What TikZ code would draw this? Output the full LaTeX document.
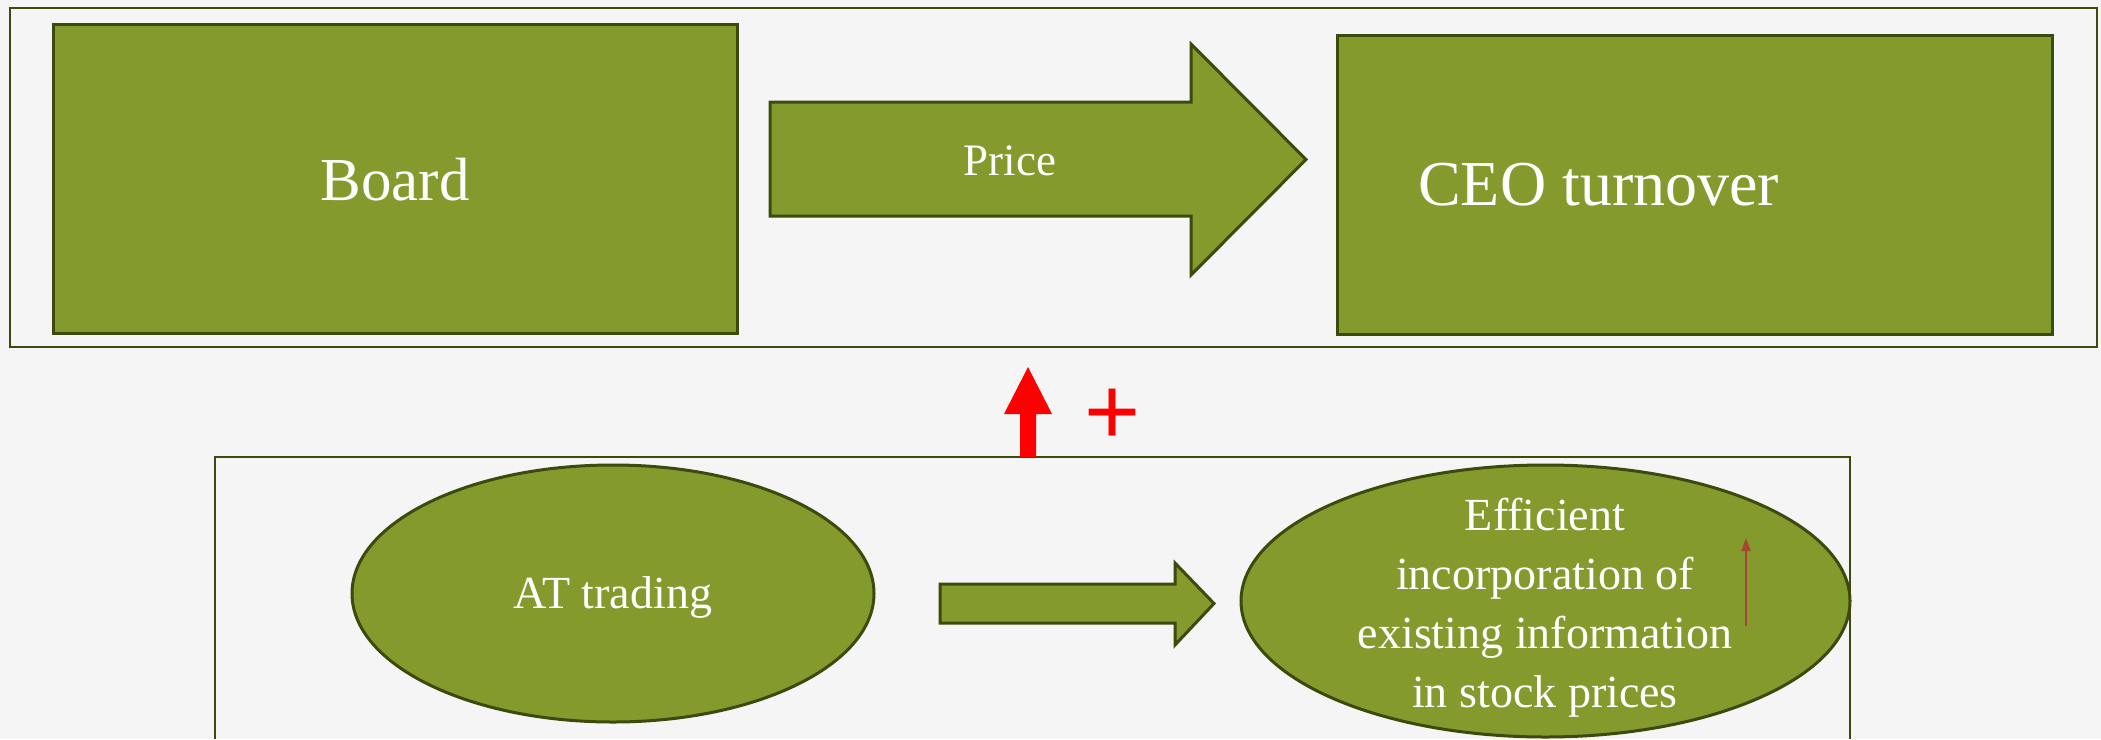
\documentclass[tikz,border=0pt]{standalone}
\usepackage{fontspec}
\setmainfont{Liberation Serif}
\newfontfamily\plusfont{Liberation Sans}
\usetikzlibrary{shapes.geometric,arrows.meta}
\definecolor{gfill}{HTML}{849A2D}
\definecolor{gline}{HTML}{3D4A0E}
\definecolor{bgcol}{HTML}{F5F5F5}
\definecolor{brred}{HTML}{A6443A}
\begin{document}
\begin{tikzpicture}[x=1pt,y=-1pt,
  frame/.style={draw=gline,line width=2.6pt},
  gbox/.style={draw=gline,fill=gfill,line width=3pt,rectangle,inner sep=0pt},
  gell/.style={draw=gline,fill=gfill,line width=3pt,ellipse,inner sep=0pt},
  gshape/.style={draw=gline,fill=gfill,line width=3pt,line join=miter},
  wtxt/.style={text=white,inner sep=0pt}]
\fill[bgcol] (0,0) rectangle (2101,739);
\useasboundingbox (0,0) rectangle (2101,739);
% top frame
\draw[frame] (10,8) rectangle (2097,347);
% Board
\node[gbox,minimum width=684pt,minimum height=309pt] (board) at (395,178.5) {};
\node[wtxt,anchor=base,font=\fontsize{61}{61}\selectfont] (boardtxt) at (395,200) {Board};
% Price arrow
\draw[gshape] (770,102) -- (1191,102) -- (1191,44) -- (1306,159.5) -- (1191,275) -- (1191,216) -- (770,216) -- cycle;
\node[wtxt,anchor=base,font=\fontsize{45}{45}\selectfont] (price) at (1010,175) {Price};
% CEO
\node[gbox,minimum width=715pt,minimum height=299pt] (ceo) at (1694.5,184.5) {};
\node[wtxt,anchor=base west,font=\fontsize{64}{64}\selectfont] (ceotxt) at (1418,205) {CEO turnover};
% bottom frame
\draw[frame] (215,739) -- (215,457) -- (1850,457) -- (1850,739);
% AT trading
\node[gell,minimum width=522pt,minimum height=257pt] (at) at (613,593.5) {};
\node[wtxt,anchor=base,font=\fontsize{46}{46}\selectfont] (attxt) at (613,608) {AT trading};
% small arrow
\draw[gshape] (940,584) -- (1175,584) -- (1175,563) -- (1214,603.5) -- (1175,645) -- (1175,623) -- (940,623) -- cycle;
% Efficient
\node[gell,minimum width=609pt,minimum height=272pt] (eff) at (1545.5,601) {};
\node[wtxt,align=center,font=\fontsize{46}{59}\selectfont] (efftxt) at (1545,608) {Efficient\\incorporation of\\existing information\\in stock prices};
% thin arrow
\coordinate (ua) at (1746,626);
\coordinate (ub) at (1746,538);
\draw[brred,line width=2pt,-{Triangle[length=13pt,width=9pt]}] (ua) -- (ub);
% red arrow
\fill[red] (1020,457) -- (1020,414) -- (1004,414) -- (1028,367) -- (1052,414) -- (1036,414) -- (1036,457) -- cycle;
\node[text=red,inner sep=0pt,font=\plusfont\fontsize{96}{96}\selectfont] (plus) at (1113,417) {+};
\end{tikzpicture}
\end{document}
